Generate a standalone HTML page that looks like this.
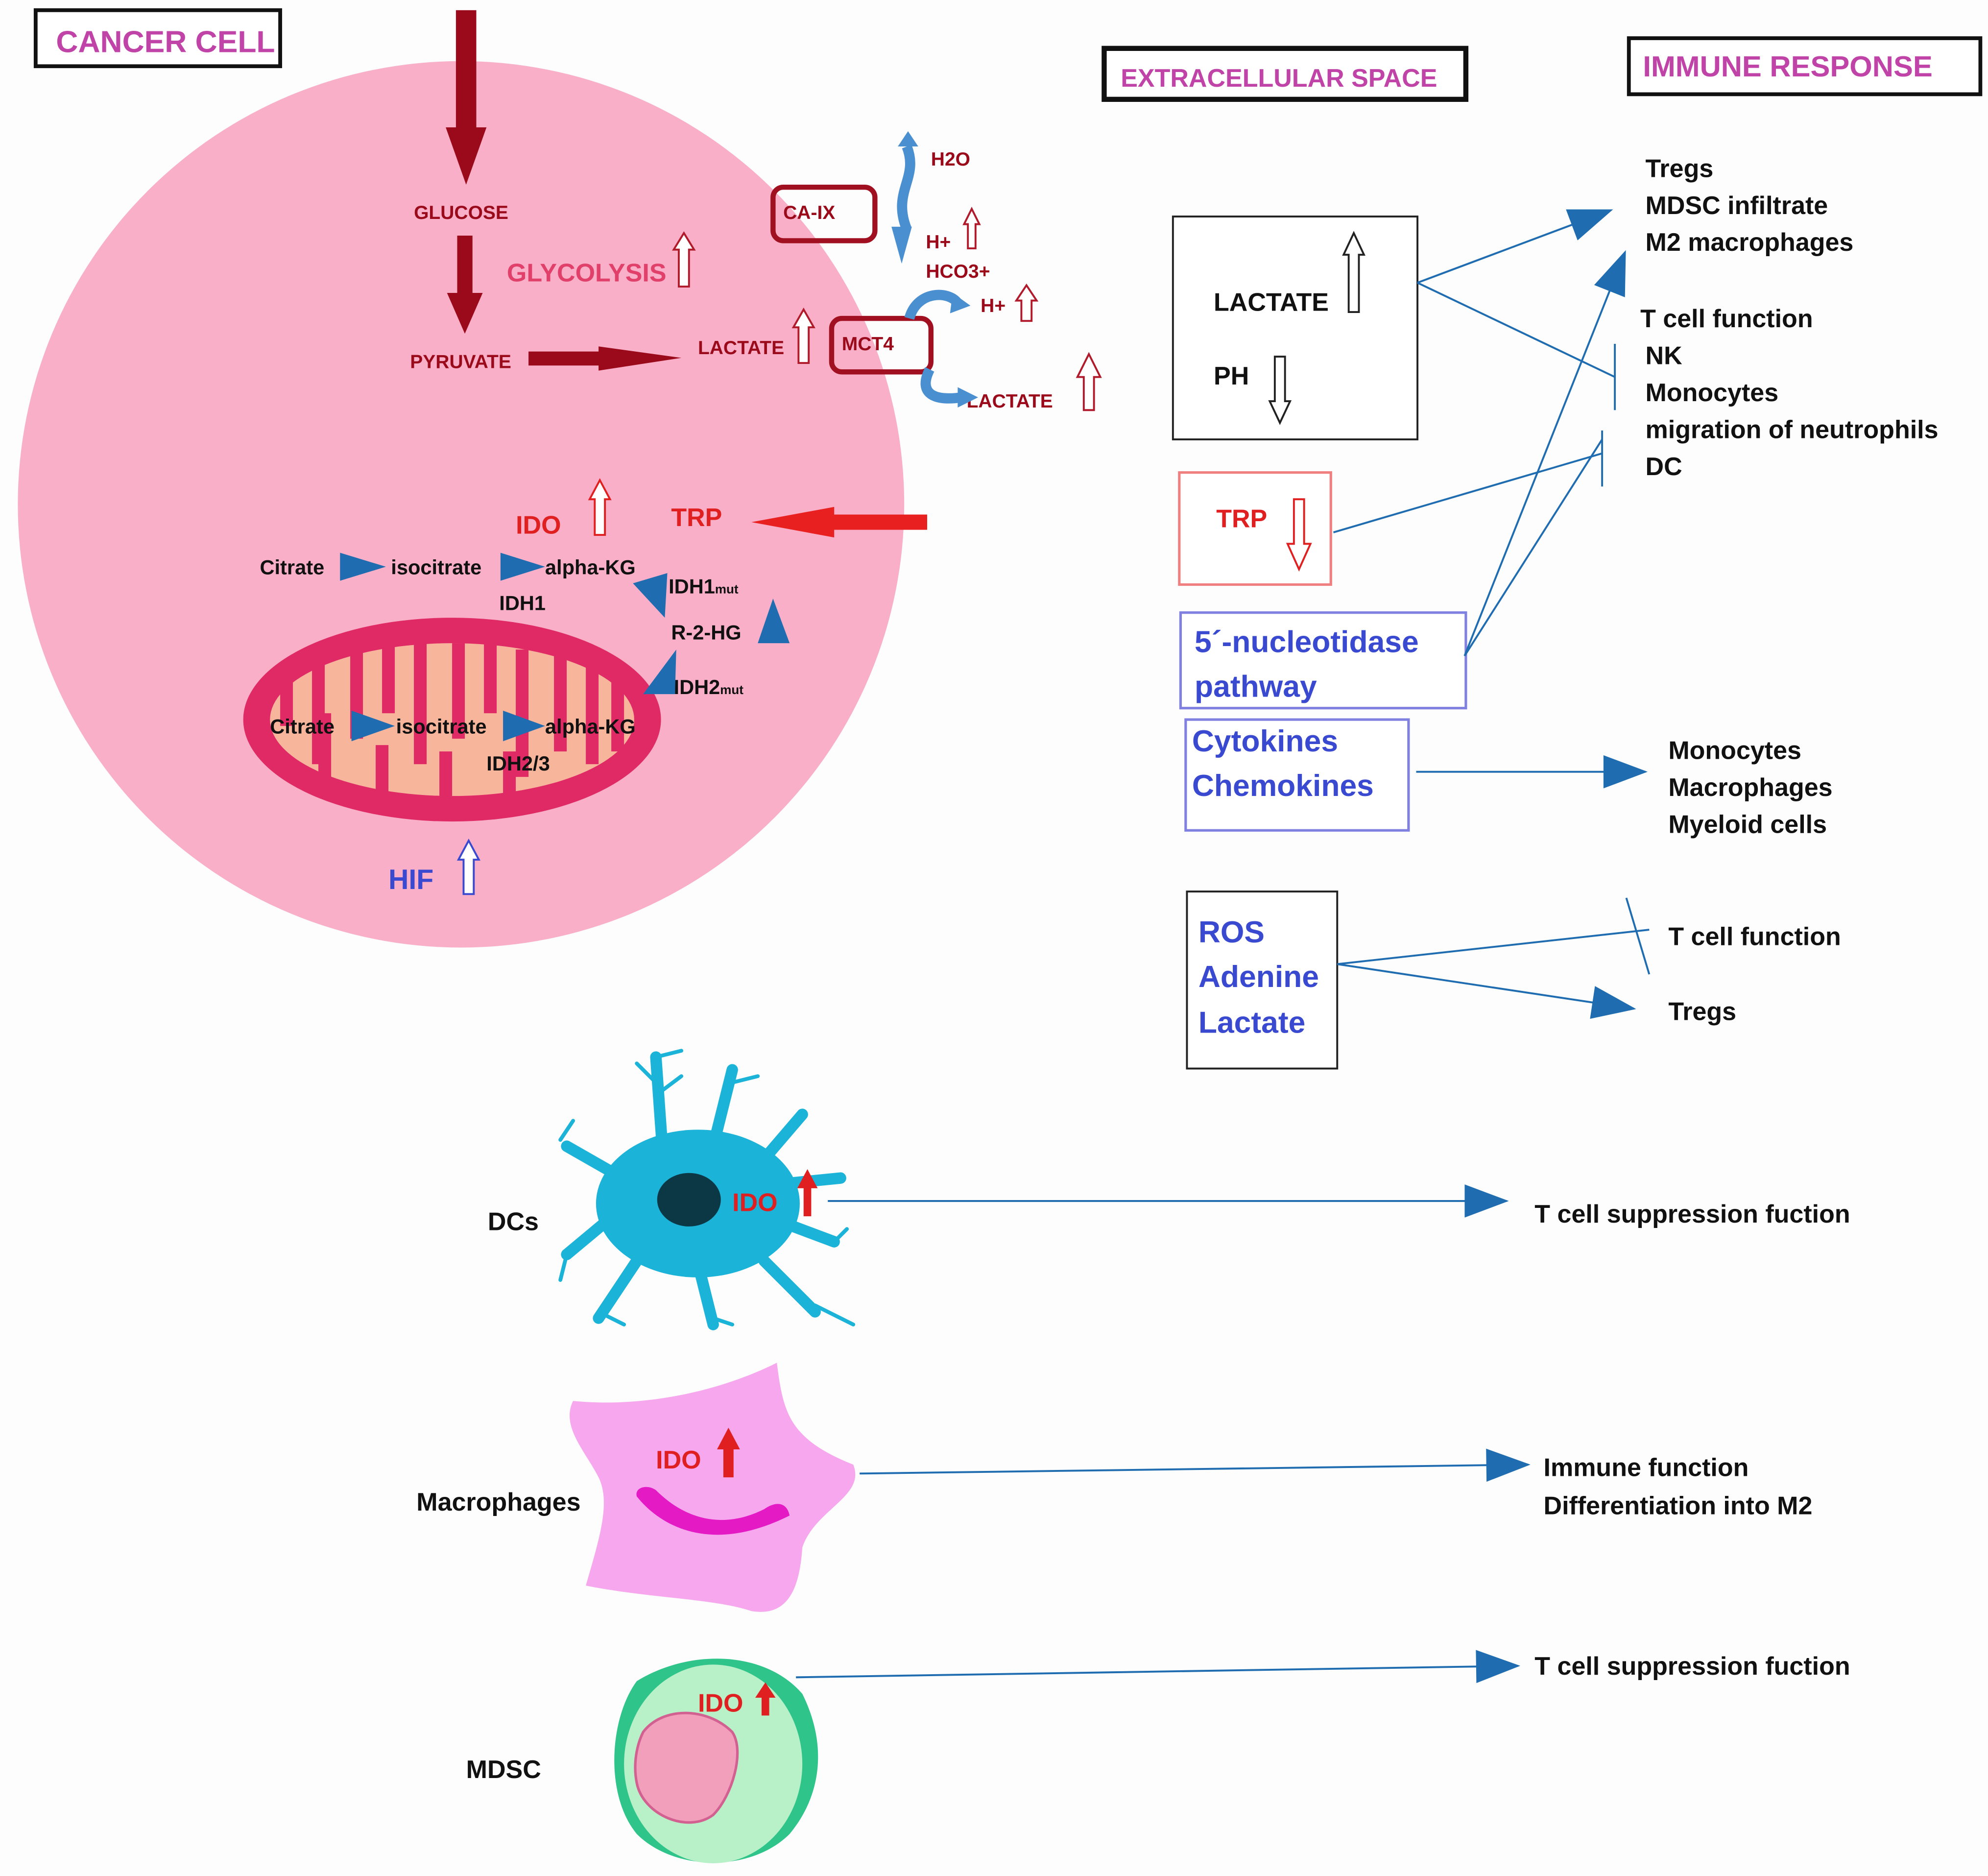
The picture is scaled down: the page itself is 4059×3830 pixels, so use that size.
<!DOCTYPE html>
<html><head><meta charset="utf-8"><style>html,body{margin:0;padding:0;background:#fdfdfd}svg{display:block}text{font-family:"Liberation Sans",sans-serif;font-weight:bold}</style></head>
<body>
<svg width="4059" height="3830" viewBox="0 0 1561 1473" preserveAspectRatio="none" xmlns="http://www.w3.org/2000/svg">
<defs>
<marker id="ah" viewBox="0 0 10 10" refX="9" refY="5" markerWidth="10" markerHeight="8" markerUnits="userSpaceOnUse" orient="auto"><path d="M0,0L10,5L0,10z" fill="#1f6db0"/></marker>
<marker id="ab" viewBox="0 0 40 30" refX="38" refY="15" markerWidth="40" markerHeight="26" markerUnits="userSpaceOnUse" orient="auto"><path d="M0,0L40,15L0,30z" fill="#1f6db0"/></marker>
</defs>
<rect width="1561" height="1473" fill="#fdfdfd"/>
<!-- titles -->
<rect x="28" y="8" width="192" height="44" fill="#fff" stroke="#111" stroke-width="3"/>
<text x="44" y="41" font-size="24" fill="#c044a8" font-weight="normal">CANCER CELL</text>
<rect x="867" y="38" width="284" height="40" fill="#fff" stroke="#111" stroke-width="4"/>
<text x="880" y="68" font-size="20" fill="#c044a8">EXTRACELLULAR SPACE</text>
<rect x="1279" y="30" width="276" height="44" fill="#fff" stroke="#111" stroke-width="3"/>
<text x="1290" y="60" font-size="23" fill="#c044a8" font-weight="normal">IMMUNE RESPONSE</text>
<!-- cell -->
<circle cx="362" cy="396" r="348" fill="#f9afc7"/>
<g fill="#9b0a1a">
<rect x="358" y="8" width="16" height="100"/><path d="M350,100L382,100L366,145z"/>
<rect x="359" y="185" width="12" height="50"/><path d="M351,230L379,230L365,262z"/>
<rect x="415" y="276" width="70" height="11"/><path d="M470,272L470,291L535,281z"/>
</g>
<g font-size="15" fill="#9b0a1a"><text x="325" y="172">GLUCOSE</text><text x="322" y="289">PYRUVATE</text><text x="548" y="278">LACTATE</text>
<text x="731" y="130">H2O</text><text x="727" y="195">H+</text><text x="727" y="218">HCO3+</text><text x="770" y="245">H+</text><text x="759" y="320">LACTATE</text></g>
<text x="398" y="221" font-size="20" fill="#e0406a">GLYCOLYSIS</text>
<g fill="#fff" stroke="#b01a2a" stroke-width="1.5">
<path d="M533,225V196H529L537,183L545,196H541V225z"/>
<path d="M627,285V257H623L631,243L639,257H635V285z"/>
<path d="M760,195V176H757L763,164L769,176H766V195z"/>
<path d="M802,252V236H798L806,224L814,236H810V252z"/>
<path d="M851,322V296H846L855,278L864,296H859V322z"/>
</g>
<rect x="607" y="147" width="80" height="42" rx="8" fill="none" stroke="#a01020" stroke-width="4"/>
<text x="615" y="172" font-size="15" fill="#9b0a1a">CA-IX</text>
<rect x="653" y="250" width="78" height="42" rx="8" fill="none" stroke="#a01020" stroke-width="4"/>
<text x="661" y="275" font-size="15" fill="#9b0a1a">MCT4</text>
<g fill="none" stroke="#4a8fd0" stroke-width="8">
<path d="M712,115C722,140 700,150 712,180"/>
<path d="M714,250C720,228 745,228 752,238"/>
<path d="M730,290C720,310 735,315 755,312"/>
</g>
<g fill="#4a8fd0"><path d="M705,115L713,103L721,115z"/><path d="M700,178L716,178L708,207z"/><path d="M748,230L762,240L746,246z"/><path d="M752,304L768,312L752,320z"/></g>
<!-- IDO/TRP -->
<text x="405" y="419" font-size="20" fill="#e02020">IDO</text>
<path d="M467,420V392H463L471,377L479,392H475V420z" fill="#fff" stroke="#e02020" stroke-width="1.5"/>
<text x="527" y="413" font-size="20" fill="#e02020">TRP</text>
<path d="M728,404H655V398L590,410L655,422V416H728z" fill="#e82020"/>
<!-- mitochondrion -->
<ellipse cx="355" cy="565" rx="164" ry="80" fill="#e02a66"/>
<ellipse cx="355" cy="565" rx="143" ry="60" fill="#f7b59c"/>
<g stroke="#e02a66" stroke-width="10" fill="none">
<path d="M225,520V570M250,510V600M280,505V580M305,505V560M330,505V600M360,505V580M385,505V560M410,510V610M440,510V590M465,520V600M485,530V590M255,610V560M300,625V585M350,625V590M400,625V590"/>
</g>
<!-- metabolic text -->
<g font-size="16" fill="#111"><text x="204" y="451">Citrate</text><text x="307" y="451">isocitrate</text><text x="428" y="451">alpha-KG</text><text x="392" y="479">IDH1</text>
<text x="525" y="466">IDH1<tspan font-size="10">mut</tspan></text><text x="527" y="502">R-2-HG</text><text x="529" y="545">IDH2<tspan font-size="10">mut</tspan></text>
<text x="212" y="576">Citrate</text><text x="311" y="576">isocitrate</text><text x="428" y="576">alpha-KG</text><text x="382" y="605">IDH2/3</text></g>
<g fill="#1f6db0">
<path d="M267,434L303,445L267,456z"/><path d="M393,434L428,445L393,456z"/>
<path d="M276,558L310,570L276,582z"/><path d="M395,558L428,570L395,582z"/>
<path d="M497,458L524,450L522,485z"/><path d="M505,545L531,510L530,545z"/>
<path d="M595,505L607,470L620,505z"/>
</g>
<text x="305" y="698" font-size="22" fill="#3a4ad0">HIF</text>
<path d="M364,702V675H360L368,660L376,675H372V702z" fill="#fff" stroke="#3a4ad0" stroke-width="1.5"/>
<!-- extracellular boxes -->
<rect x="921" y="170" width="192" height="175" fill="#fff" stroke="#222" stroke-width="1.5"/>
<text x="953" y="244" font-size="20" fill="#111">LACTATE</text><text x="953" y="302" font-size="20" fill="#111">PH</text>
<path d="M1059,245V200H1055L1063,183L1071,200H1067V245z" fill="#fff" stroke="#222" stroke-width="1.5"/>
<path d="M1001,280V315H997L1005,332L1013,315H1009V280z" fill="#fff" stroke="#222" stroke-width="1.5"/>
<rect x="926" y="371" width="119" height="88" fill="#fff" stroke="#f08080" stroke-width="2"/>
<text x="955" y="414" font-size="20" fill="#e02020">TRP</text>
<path d="M1016,392V427H1011L1020,447L1029,427H1024V392z" fill="#fff" stroke="#e02020" stroke-width="1.5"/>
<rect x="927" y="481" width="224" height="75" fill="#fff" stroke="#8080e0" stroke-width="2"/>
<text x="938" y="512" font-size="24" fill="#3a4ad0">5´-nucleotidase</text><text x="938" y="547" font-size="24" fill="#3a4ad0">pathway</text>
<rect x="931" y="565" width="175" height="87" fill="#fff" stroke="#8080e0" stroke-width="2"/>
<text x="936" y="590" font-size="24" fill="#3a4ad0">Cytokines</text><text x="936" y="625" font-size="24" fill="#3a4ad0">Chemokines</text>
<rect x="932" y="700" width="118" height="139" fill="#fff" stroke="#222" stroke-width="1.5"/>
<text x="941" y="740" font-size="24" fill="#3a4ad0">ROS</text><text x="941" y="775" font-size="24" fill="#3a4ad0">Adenine</text><text x="941" y="811" font-size="24" fill="#3a4ad0">Lactate</text>
<!-- connectors -->
<g stroke="#1f6db0" stroke-width="1.5" fill="none">
<line x1="1113" y1="222" x2="1265" y2="165" marker-end="url(#ab)"/>
<line x1="1113" y1="222" x2="1268" y2="296"/><line x1="1268" y1="270" x2="1268" y2="322"/>
<line x1="1047" y1="418" x2="1258" y2="356"/><line x1="1258" y1="338" x2="1258" y2="382"/>
<line x1="1150" y1="515" x2="1276" y2="198" marker-end="url(#ab)"/>
<line x1="1150" y1="515" x2="1258" y2="345"/>
<line x1="1112" y1="606" x2="1292" y2="606" marker-end="url(#ab)"/>
<line x1="1050" y1="757" x2="1295" y2="730"/><line x1="1277" y1="705" x2="1295" y2="765"/>
<line x1="1050" y1="757" x2="1283" y2="792" marker-end="url(#ab)"/>
<line x1="650" y1="943" x2="1183" y2="943" marker-end="url(#ab)"/>
<line x1="675" y1="1157" x2="1200" y2="1150" marker-end="url(#ab)"/>
<line x1="625" y1="1317" x2="1192" y2="1308" marker-end="url(#ab)"/>
</g>
<g font-size="20" fill="#111">
<text x="1292" y="139">Tregs</text><text x="1292" y="168">MDSC infiltrate</text><text x="1292" y="197">M2 macrophages</text>
<text x="1288" y="257">T cell function</text><text x="1292" y="286">NK</text><text x="1292" y="315">Monocytes</text><text x="1292" y="344">migration of neutrophils</text><text x="1292" y="373">DC</text>
<text x="1310" y="596">Monocytes</text><text x="1310" y="625">Macrophages</text><text x="1310" y="654">Myeloid cells</text>
<text x="1310" y="742">T cell function</text><text x="1310" y="801">Tregs</text>
<text x="1205" y="960">T cell suppression fuction</text>
<text x="1212" y="1159">Immune function</text><text x="1212" y="1189">Differentiation into M2</text>
<text x="1205" y="1315">T cell suppression fuction</text>
<text x="383" y="966">DCs</text><text x="327" y="1186">Macrophages</text><text x="366" y="1396">MDSC</text>
</g>
<!-- DC -->
<g fill="#1bb3d8" stroke="#1bb3d8" stroke-linecap="round">
<ellipse cx="548" cy="945" rx="80" ry="58" stroke="none"/>
<g stroke-width="9" fill="none"><path d="M520,900L515,830M560,900L575,840M600,910L630,875M480,920L445,900M475,960L445,985M500,990L470,1035M550,1000L560,1040M600,990L640,1030M615,960L655,975M610,930L660,925"/></g>
<g stroke-width="3" fill="none"><path d="M515,850L500,835M515,860L535,845M575,850L595,845M440,895L450,880M445,985L440,1005M470,1030L490,1040M560,1035L575,1040M640,1025L670,1040M655,975L665,965M515,830L535,825"/></g>
</g>
<ellipse cx="541" cy="942" rx="25" ry="21" fill="#0c3845"/>
<text x="575" y="951" font-size="20" fill="#e02020">IDO</text>
<path d="M631,955V933H626L634,918L642,933H637V955z" fill="#e02020"/>
<!-- Macrophage -->
<path d="M450,1100C500,1105 560,1095 610,1070C615,1110 620,1130 670,1150C680,1175 640,1185 630,1215C628,1245 620,1270 590,1265C560,1255 510,1255 460,1245C470,1210 480,1180 470,1160C460,1140 440,1120 450,1100z" fill="#f7a7ee"/>
<path d="M500,1175C520,1200 560,1220 620,1190C618,1180 610,1178 600,1185C570,1200 540,1195 515,1170C508,1165 498,1168 500,1175z" fill="#e41ac4"/>
<text x="515" y="1153" font-size="20" fill="#e02020">IDO</text>
<path d="M568,1160V1138H563L572,1121L581,1138H576V1160z" fill="#e02020"/>
<!-- MDSC -->
<path d="M500,1320C540,1295 600,1295 630,1330C650,1370 645,1410 620,1440C590,1470 530,1470 500,1440C475,1410 478,1350 500,1320z" fill="#2fc48a"/>
<ellipse cx="560" cy="1385" rx="70" ry="78" fill="#b8f0c8"/>
<path d="M505,1360C520,1340 555,1340 575,1360C585,1375 575,1410 560,1425C540,1440 505,1425 500,1400C497,1385 500,1370 505,1360z" fill="#f19fba" stroke="#d26090" stroke-width="2"/>
<text x="548" y="1344" font-size="20" fill="#e02020">IDO</text>
<path d="M598,1347V1333H593L601,1321L609,1333H604V1347z" fill="#e02020"/>
</svg>
</body></html>
